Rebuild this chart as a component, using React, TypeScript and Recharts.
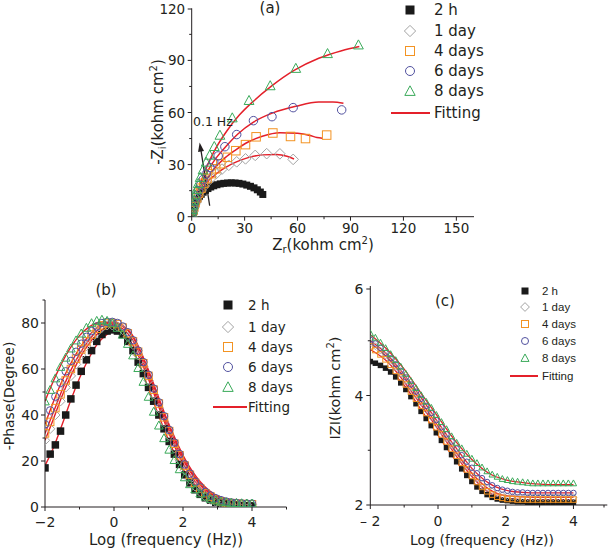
import React from "react";
import { ComposedChart, Line, XAxis, YAxis, ReferenceLine, ReferenceDot } from "recharts";

const DEJAVU = "'DejaVu Sans', Verdana, sans-serif";
const ARIAL = "'Liberation Sans', Arial, sans-serif";
const INK = "#231f20";
const RED = "#e4202a";

// (a) Nyquist: Zr / -Zi in kohm cm2
const nyq2hZr = [0, 0.3, 0.6, 1.0, 1.5, 2.0, 2.7, 3.5, 4.4, 5.4, 6.5, 7.8, 9.2, 10.8, 12.5, 14.3, 16.2, 18.2, 20.3, 22.4, 24.6, 26.8, 29.0, 31.2, 33.3, 35.3, 37.2, 38.9, 40.3];
const nyq2hZi = [0, 1.2, 2.5, 4.0, 5.6, 7.1, 8.7, 10.2, 11.6, 12.9, 14.1, 15.2, 16.2, 17.1, 17.8, 18.4, 18.9, 19.2, 19.4, 19.5, 19.4, 19.2, 18.8, 18.2, 17.5, 16.6, 15.5, 14.2, 12.8];
const nyq1dZr = [0, 0.3, 0.7, 1.2, 1.9, 2.8, 3.9, 5.3, 7.0, 9.0, 11.4, 14.1, 17.2, 21.0, 25.5, 30.5, 36.0, 42.5, 50.0, 57.5];
const nyq1dZi = [0, 1.5, 3.2, 5.2, 7.4, 9.8, 12.3, 14.9, 17.5, 20.1, 22.6, 25.0, 27.4, 29.6, 31.6, 33.3, 35.3, 36.3, 36.2, 33.0];
const nyq4dZr = [0, 0.3, 0.7, 1.2, 1.9, 2.8, 3.9, 5.2, 6.8, 8.7, 11.0, 13.6, 16.5, 20.2, 25.0, 30.5, 36.5, 46.0, 56.0, 64.5, 76.5];
const nyq4dZi = [0, 1.7, 3.6, 5.8, 8.3, 10.9, 13.6, 16.4, 19.2, 22.0, 24.8, 27.6, 30.5, 34.2, 38.0, 41.5, 46.0, 48.2, 46.2, 45.0, 47.0];
const nyq6dZr = [0, 0.3, 0.7, 1.2, 1.9, 2.7, 3.7, 5.0, 6.5, 8.2, 10.3, 12.5, 15.0, 18.8, 25.5, 35.0, 45.5, 57.5, 85.0];
const nyq6dZi = [0, 1.9, 4.0, 6.4, 9.1, 12.0, 15.0, 18.2, 21.4, 24.5, 28.3, 31.5, 35.0, 40.3, 47.3, 55.3, 57.6, 62.8, 61.5];
const nyq8dZr = [0, 0.2, 0.5, 0.9, 1.4, 2.0, 2.8, 3.7, 4.8, 6.4, 8.2, 10.2, 12.8, 16.0, 23.0, 32.5, 44.5, 59.0, 77.0, 94.5];
const nyq8dZi = [0, 2.0, 4.3, 6.8, 9.6, 12.6, 15.8, 19.2, 22.7, 27.0, 31.5, 35.5, 40.5, 47.0, 57.0, 67.0, 75.5, 85.5, 94.0, 99.0];

const fit2hZr = [5.5, 7, 9, 11.5, 14.5, 18, 22, 26, 30, 34, 37.5, 40.5];
const fit2hZi = [11, 13.5, 15.6, 17.4, 18.7, 19.6, 19.9, 19.6, 18.7, 17.2, 15.2, 12.5];
const fit1dZr = [0, 1, 2.5, 4.5, 7, 10, 14, 19, 25, 32, 40, 48, 54, 58];
const fit1dZi = [0, 4.5, 9, 13.5, 17.5, 21, 24.8, 28.3, 31.4, 34, 35.6, 35.8, 34.8, 33.2];
const fit4dZr = [0, 1, 2.5, 4.5, 7, 10, 14, 19, 25, 32, 40, 50, 60, 67, 71, 74];
const fit4dZi = [0, 5, 10, 15, 19.5, 24, 29, 34, 38.5, 43, 46.3, 48.3, 48, 46.8, 45.6, 45.2];
const fit6dZr = [0, 1, 2.5, 4.5, 7, 10, 14, 19, 26, 35, 46, 59, 72, 80, 86];
const fit6dZi = [0, 5.5, 11, 17, 22.5, 28, 34, 40, 47.5, 54.5, 59.8, 63.6, 66, 66, 65.3];
const fit8dZr = [0, 1, 2.5, 4.5, 7, 10, 14, 20, 27, 35, 45, 58, 72, 85, 95];
const fit8dZi = [0, 6, 12, 18, 25, 32, 40, 49.5, 58.5, 66.5, 75, 84.2, 91.2, 95.6, 98];

// (b), (c) Bode: log f grid of the measured points
const logF = [-2, -1.85, -1.7, -1.55, -1.4, -1.25, -1.1, -0.95, -0.8, -0.65, -0.5, -0.35, -0.2, -0.05, 0.1, 0.25, 0.4, 0.55, 0.7, 0.85, 1.0, 1.15, 1.3, 1.45, 1.6, 1.75, 1.9, 2.05, 2.2, 2.35, 2.5, 2.65, 2.8, 2.95, 3.1, 3.25, 3.4, 3.55, 3.7, 3.85, 4.0];

const phase2h = [17, 23, 27, 33, 40, 47, 53, 59, 64, 68, 72, 75, 76.5, 77, 76.5, 75, 72, 68, 63, 58, 52, 46, 40, 34, 28.5, 23, 18.5, 14, 10.5, 7.5, 5.5, 4, 3, 2, 1.5, 1.2, 1, 0.8, 0.7, 0.6, 0.5];
const phase1d = [29, 34, 40, 46, 52, 57, 62, 66, 70, 73.5, 76, 78, 79, 79, 78.5, 77, 74, 70.5, 66, 61, 55, 49, 43, 37, 31, 25.5, 20.5, 16, 12, 9, 6.5, 4.5, 3.2, 2.3, 1.8, 1.5, 1.3, 1.2, 1.1, 1, 1];
const phase4d = [32, 37, 43, 49, 55, 60, 64.5, 68.5, 72, 75, 77.5, 79, 80, 80, 79.5, 78, 75.5, 72, 67.5, 62.5, 57, 51, 45, 39, 33, 27.5, 22.5, 18, 14, 10.5, 8, 6, 4.5, 3.3, 2.5, 2, 1.7, 1.5, 1.3, 1.2, 1.2];
const phase6d = [36, 42, 48, 54, 59, 63.5, 67.5, 71, 74, 76.5, 78.5, 80, 80.5, 80.5, 80, 78.5, 76, 72.5, 68, 63, 57.5, 51.5, 45.5, 39.5, 33.5, 28, 23, 18.5, 14.5, 11, 8.5, 6.5, 5, 3.8, 3, 2.4, 2, 1.8, 1.6, 1.5, 1.5];
const phase8d = [46, 51, 56, 61, 65, 69, 72.5, 75.5, 78, 80, 81, 81.5, 81, 80, 78, 75, 71, 66, 60.5, 54.5, 48, 41.5, 35.5, 30, 25, 20.5, 16.5, 13, 10, 7.8, 6, 4.6, 3.6, 2.9, 2.4, 2.1, 1.9, 1.8, 1.7, 1.6, 1.6];

const fitFb = [-2, -1.75, -1.5, -1.25, -1, -0.75, -0.5, -0.25, 0, 0.25, 0.5, 0.75, 1, 1.25, 1.5, 1.75, 2, 2.25, 2.5, 2.75, 3, 3.25, 3.5, 3.75, 4];
const fitPh2h = [18, 26, 36, 46.5, 56, 64, 70.5, 74.5, 76.5, 75.5, 71.5, 64.5, 55.5, 45.5, 35.5, 26.5, 19, 13, 8.5, 5.5, 3.5, 2.3, 1.5, 1.1, 0.9];
const fitPh1d = [29, 38.5, 48.5, 57, 64.5, 70.5, 75, 78, 79, 77.5, 73.5, 66.5, 57, 47, 37, 28, 20.5, 14.5, 9.5, 6.2, 4, 2.7, 1.9, 1.4, 1.2];
const fitPh4d = [32, 41.5, 51, 59.5, 66.5, 72, 76.5, 79.5, 80, 78.5, 75, 68, 58.5, 48.5, 38.5, 29.5, 21.5, 15, 10, 6.5, 4.3, 2.9, 2.1, 1.6, 1.4];
const fitPh6d = [36, 46, 55, 62.5, 69, 74, 78, 80, 80.5, 79, 75.5, 68.5, 59.5, 49.5, 39.5, 30.5, 22.5, 16, 11, 7.3, 4.8, 3.2, 2.3, 1.8, 1.6];
const fitPh8d = [46, 55, 63, 69.5, 74.5, 78, 80, 80.5, 79, 75.5, 69.5, 61.5, 51.5, 41.5, 32, 23.5, 16.5, 11.2, 7.5, 5, 3.3, 2.4, 1.9, 1.6, 1.5];

const mod2h = [4.62, 4.59, 4.55, 4.50, 4.43, 4.34, 4.23, 4.11, 3.98, 3.85, 3.71, 3.58, 3.45, 3.32, 3.18, 3.05, 2.92, 2.79, 2.66, 2.54, 2.43, 2.33, 2.25, 2.19, 2.14, 2.11, 2.09, 2.08, 2.07, 2.06, 2.06, 2.05, 2.05, 2.05, 2.05, 2.05, 2.05, 2.05, 2.05, 2.05, 2.05];
const mod1d = [4.97, 4.90, 4.82, 4.73, 4.63, 4.52, 4.40, 4.27, 4.14, 4.01, 3.87, 3.74, 3.61, 3.48, 3.35, 3.22, 3.09, 2.96, 2.83, 2.71, 2.59, 2.48, 2.39, 2.31, 2.25, 2.21, 2.18, 2.16, 2.15, 2.14, 2.14, 2.14, 2.14, 2.14, 2.14, 2.14, 2.14, 2.14, 2.14, 2.14, 2.14];
const mod4d = [4.90, 4.83, 4.75, 4.66, 4.56, 4.45, 4.33, 4.20, 4.07, 3.94, 3.81, 3.68, 3.55, 3.42, 3.29, 3.16, 3.03, 2.90, 2.77, 2.65, 2.53, 2.42, 2.33, 2.25, 2.19, 2.15, 2.13, 2.11, 2.11, 2.10, 2.10, 2.10, 2.10, 2.10, 2.10, 2.10, 2.10, 2.10, 2.10, 2.10, 2.10];
const mod6d = [5.02, 4.95, 4.87, 4.78, 4.68, 4.57, 4.45, 4.33, 4.20, 4.07, 3.94, 3.81, 3.68, 3.55, 3.42, 3.29, 3.16, 3.03, 2.91, 2.79, 2.68, 2.58, 2.49, 2.42, 2.36, 2.31, 2.28, 2.26, 2.24, 2.23, 2.23, 2.22, 2.22, 2.22, 2.22, 2.22, 2.22, 2.22, 2.22, 2.22, 2.22];
const mod8d = [5.14, 5.06, 4.97, 4.87, 4.76, 4.65, 4.53, 4.40, 4.27, 4.14, 4.01, 3.89, 3.78, 3.65, 3.52, 3.39, 3.26, 3.14, 3.04, 2.94, 2.85, 2.77, 2.69, 2.62, 2.56, 2.52, 2.48, 2.46, 2.44, 2.43, 2.42, 2.41, 2.40, 2.40, 2.40, 2.40, 2.40, 2.40, 2.40, 2.40, 2.40];

const fitFc = [-2, -1.5, -1, -0.5, 0, 0.5, 1, 1.5, 2, 2.5, 3, 3.5, 4];
const fitMod2h = [4.62, 4.48, 4.19, 3.74, 3.27, 2.83, 2.44, 2.18, 2.08, 2.06, 2.05, 2.05, 2.05];
const fitMod1d = [4.95, 4.70, 4.33, 3.89, 3.44, 2.99, 2.58, 2.29, 2.17, 2.15, 2.14, 2.14, 2.14];
const fitMod4d = [4.84, 4.62, 4.25, 3.83, 3.38, 2.93, 2.52, 2.23, 2.12, 2.10, 2.10, 2.10, 2.10];
const fitMod6d = [5.0, 4.75, 4.38, 3.96, 3.51, 3.07, 2.67, 2.40, 2.27, 2.23, 2.22, 2.22, 2.22];
const fitMod8d = [5.11, 4.84, 4.48, 4.04, 3.61, 3.18, 2.83, 2.58, 2.46, 2.41, 2.38, 2.37, 2.37];

const SERIES = [
  { name: "2 h", kind: "fsquare", color: "#1a1a1a" },
  { name: "1 day", kind: "diamond", color: "#a3a3a3" },
  { name: "4 days", kind: "square", color: "#f39322" },
  { name: "6 days", kind: "circle", color: "#51519f" },
  { name: "8 days", kind: "triangle", color: "#3aaa5a" },
];

const pts = (xs: number[], ys: number[]) => xs.map((x, i) => ({ x, y: ys[i] }));

// one table per Bode panel: m0..m4 = measured, f0..f4 = fitting
function bodeTable(marks: number[][], fitX: number[], fits: number[][]) {
  const xs = Array.from(new Set([...logF, ...fitX])).sort((a, b) => a - b);
  return xs.map((x) => {
    const r: any = { x };
    const i = logF.indexOf(x);
    if (i >= 0) marks.forEach((a, k) => (r["m" + k] = a[i]));
    const j = fitX.indexOf(x);
    if (j >= 0) fits.forEach((a, k) => (r["f" + k] = a[j]));
    return r;
  });
}

function Mark({ kind, cx, cy, s, color }: any) {
  const h = s / 2;
  if (kind === "fsquare") return <rect x={cx - h} y={cy - h} width={s} height={s} fill={color} />;
  if (kind === "square")
    return <rect x={cx - h} y={cy - h} width={s} height={s} fill="none" stroke={color} strokeWidth={1} />;
  if (kind === "circle") return <circle cx={cx} cy={cy} r={h} fill="none" stroke={color} strokeWidth={1} />;
  if (kind === "diamond") {
    const d = h * 1.25;
    return (
      <polygon points={`${cx},${cy - d} ${cx + d},${cy} ${cx},${cy + d} ${cx - d},${cy}`} fill="none" stroke={color} strokeWidth={1} />
    );
  }
  const t = h * 1.15;
  return (
    <polygon points={`${cx},${cy - t} ${cx + t},${cy + t * 0.85} ${cx - t},${cy + t * 0.85}`} fill="none" stroke={color} strokeWidth={1} />
  );
}

const dotOf = (kind: string, color: string, s: number) => (p: any) =>
  p.cx == null || p.cy == null || p.value == null ? (
    <g key={p.index} />
  ) : (
    <Mark key={p.index} kind={kind} color={color} s={s} cx={p.cx} cy={p.cy} />
  );

function tickOf(dir: "x" | "y", majors: number[], fmt: (v: number) => string, size: number, off: number) {
  return (p: any) => {
    const v = p.payload.value;
    const major = majors.some((m) => Math.abs(m - v) < 1e-6);
    const len = major ? 4 : 2.5;
    if (dir === "x")
      return (
        <g>
          <line x1={p.x} x2={p.x} y1={p.y} y2={p.y + len} stroke={INK} />
          {major && (
            <text x={p.x} y={p.y + off} textAnchor="middle" dominantBaseline="central" fontSize={size} fontFamily={DEJAVU} fill={INK}>
              {fmt(v)}
            </text>
          )}
        </g>
      );
    return (
      <g>
        <line x1={p.x} x2={p.x - len} y1={p.y} y2={p.y} stroke={INK} />
        {major && (
          <text x={p.x - off} y={p.y} textAnchor="end" dominantBaseline="central" fontSize={size} fontFamily={DEJAVU} fill={INK}>
            {fmt(v)}
          </text>
        )}
      </g>
    );
  };
}

const num = (v: number) => String(v);
const neg = (v: number) => (v < 0 ? "\u2212" + Math.abs(v) : String(v));
const negC = (v: number) => (v < 0 ? "\u2013 " + Math.abs(v) : String(v));

const axisProps = { tickSize: 0, tickMargin: 0, tickLine: false, axisLine: { stroke: INK, strokeWidth: 1 }, allowDataOverflow: true } as any;

function Legend({ mx, tx, rows, size, font, ms, line }: any) {
  return (
    <g>
      {SERIES.map((s, i) => (
        <g key={s.name}>
          <Mark kind={s.kind} color={s.color} s={ms} cx={mx} cy={rows[i]} />
          <text x={tx} y={rows[i]} dominantBaseline="central" fontSize={size} fontFamily={font} fill={INK}>
            {s.name}
          </text>
        </g>
      ))}
      <line x1={line[0]} x2={line[1]} y1={rows[5]} y2={rows[5]} stroke={RED} strokeWidth={2} />
      <text x={tx} y={rows[5]} dominantBaseline="central" fontSize={size} fontFamily={font} fill={INK}>
        Fitting
      </text>
    </g>
  );
}

export default function App() {
  const nyq = [
    pts(nyq2hZr, nyq2hZi),
    pts(nyq1dZr, nyq1dZi),
    pts(nyq4dZr, nyq4dZi),
    pts(nyq6dZr, nyq6dZi),
    pts(nyq8dZr, nyq8dZi),
  ];
  const nyqFit = [
    pts(fit2hZr, fit2hZi),
    pts(fit1dZr, fit1dZi),
    pts(fit4dZr, fit4dZi),
    pts(fit6dZr, fit6dZi),
    pts(fit8dZr, fit8dZi),
  ];
  const phaseRows = bodeTable([phase2h, phase1d, phase4d, phase6d, phase8d], fitFb, [fitPh2h, fitPh1d, fitPh4d, fitPh6d, fitPh8d]);
  const modRows = bodeTable([mod2h, mod1d, mod4d, mod6d, mod8d], fitFc, [fitMod2h, fitMod1d, fitMod4d, fitMod6d, fitMod8d]);

  const lbl = { fontFamily: DEJAVU, fill: INK } as any;

  return (
    <div style={{ position: "relative", width: 608, height: 549, background: "#fff" }}>
      <style>{"body{margin:0}"}</style>

      {/* (a) Nyquist */}
      <div style={{ position: "absolute", left: 0, top: 0 }}>
        <ComposedChart width={490} height={250} margin={{ top: 8.3, right: 16, bottom: 3.3, left: 0 }}>
          <XAxis {...axisProps} type="number" dataKey="x" domain={[0, 160]} height={30}
            ticks={[0, 15, 30, 45, 60, 75, 90, 105, 120, 135, 150]}
            tick={tickOf("x", [0, 30, 60, 90, 120, 150], num, 13.5, 11)} />
          <YAxis {...axisProps} type="number" domain={[0, 120]} width={191.7}
            ticks={[0, 15, 30, 45, 60, 75, 90, 105, 120]}
            tick={tickOf("y", [0, 30, 60, 90, 120], num, 13.5, 6.5)} />
          {SERIES.map((s, i) => (
            <Line key={s.name} data={nyq[i]} dataKey="y" stroke="none" isAnimationActive={false}
              dot={dotOf(s.kind, s.color, s.kind === "fsquare" ? 7 : 8.5)} activeDot={false} />
          ))}
          {nyqFit.map((d, i) => (
            <Line key={"f" + i} data={d} dataKey="y" type="monotone" stroke={RED} strokeWidth={1.5} dot={false}
              activeDot={false} isAnimationActive={false} />
          ))}
          <ReferenceLine segment={[{ x: 10.2, y: 6.3 }, { x: 4.9, y: 40.5 }]} stroke={INK} strokeWidth={1.3} />
          <ReferenceDot x={4.5} y={42.7} r={0}
            shape={(p: any) => (
              <polygon points={`${p.cx},${p.cy} ${p.cx - 3},${p.cy + 9} ${p.cx + 3},${p.cy + 9}`} fill={INK}
                transform={`rotate(-9 ${p.cx} ${p.cy})`} />
            )} />
        </ComposedChart>
      </div>

      {/* (b) phase */}
      <div style={{ position: "absolute", left: 0, top: 280 }}>
        <ComposedChart width={300} height={269} data={phaseRows} margin={{ top: 20, right: 13.5, bottom: 12, left: 0 }}>
          <XAxis {...axisProps} type="number" dataKey="x" domain={[-2, 5]} height={30}
            ticks={[-2, -1, 0, 1, 2, 3, 4, 5]} tick={tickOf("x", [-2, 0, 2, 4], neg, 14, 15)} />
          <YAxis {...axisProps} type="number" domain={[0, 90]} width={45}
            ticks={[0, 10, 20, 30, 40, 50, 60, 70, 80, 90]} tick={tickOf("y", [0, 20, 40, 60, 80], num, 14, 6)} />
          {SERIES.map((s, i) => (
            <Line key={s.name} dataKey={"m" + i} stroke="none" isAnimationActive={false}
              dot={dotOf(s.kind, s.color, 7.5)} activeDot={false} />
          ))}
          {SERIES.map((s, i) => (
            <Line key={"f" + i} dataKey={"f" + i} type="monotone" stroke={RED} strokeWidth={1.4} dot={false} connectNulls
              activeDot={false} isAnimationActive={false} />
          ))}
        </ComposedChart>
      </div>

      {/* (c) modulus */}
      <div style={{ position: "absolute", left: 300, top: 280 }}>
        <ComposedChart width={308} height={269} data={modRows} margin={{ top: 6, right: 0.7, bottom: 14, left: 0 }}>
          <XAxis {...axisProps} type="number" dataKey="x" domain={[-2, 5]} height={30}
            ticks={[-2, -1, 0, 1, 2, 3, 4, 5]} tick={tickOf("x", [-2, 0, 2, 4], negC, 14, 16)} />
          <YAxis {...axisProps} type="number" domain={[2, 6]} width={70.3}
            ticks={[2, 3, 4, 5, 6]} tick={tickOf("y", [2, 4, 6], num, 14, 7)} />
          {SERIES.map((s, i) => (
            <Line key={s.name} dataKey={"m" + i} stroke="none" isAnimationActive={false}
              dot={dotOf(s.kind, s.color, 5.5)} activeDot={false} />
          ))}
          {SERIES.map((s, i) => (
            <Line key={"f" + i} dataKey={"f" + i} type="monotone" stroke={RED} strokeWidth={1.3} dot={false} connectNulls
              activeDot={false} isAnimationActive={false} />
          ))}
        </ComposedChart>
      </div>

      {/* titles, axis labels and legends */}
      <svg width={608} height={549} style={{ position: "absolute", left: 0, top: 0, pointerEvents: "none" }}>
        <text x={270} y={8} textAnchor="middle" dominantBaseline="central" fontSize={15} {...lbl}>(a)</text>
        <text x={158} y={112} transform="rotate(-90 158 112)" textAnchor="middle" dominantBaseline="central" fontSize={15} {...lbl}>
          -Z<tspan dy={4} fontSize={10}>i</tspan><tspan dy={-4}>(kohm cm</tspan><tspan dy={-5} fontSize={10}>2</tspan><tspan dy={5}>)</tspan>
        </text>
        <text x={323} y={245} textAnchor="middle" dominantBaseline="central" fontSize={15} {...lbl}>
          Z<tspan dy={4} fontSize={10}>r</tspan><tspan dy={-4}>(kohm cm</tspan><tspan dy={-5} fontSize={10}>2</tspan><tspan dy={5}>)</tspan>
        </text>
        <text x={193} y={121} dominantBaseline="central" fontSize={12.5} {...lbl}>0.1 Hz</text>
        <Legend mx={410} tx={434} rows={[10, 31, 51, 71, 91, 113]} size={15} font={DEJAVU} ms={9} line={[391, 430]} />

        <text x={106} y={290} textAnchor="middle" dominantBaseline="central" fontSize={15} {...lbl}>(b)</text>
        <text x={9} y={396} transform="rotate(-90 9 396)" textAnchor="middle" dominantBaseline="central" fontSize={14} {...lbl}>
          -Phase(Degree)
        </text>
        <text x={166} y={539.5} textAnchor="middle" dominantBaseline="central" fontSize={15} {...lbl}>Log (frequency (Hz))</text>
        <Legend mx={228} tx={248} rows={[305, 327, 347, 367, 387, 407]} size={13.5} font={DEJAVU} ms={9} line={[213, 247]} />

        <text x={445} y={301} textAnchor="middle" dominantBaseline="central" fontSize={15} {...lbl}>(c)</text>
        <text x={335} y={388} transform="rotate(-90 335 388)" textAnchor="middle" dominantBaseline="central" fontSize={14.5} {...lbl}>
          IZI(kohm cm<tspan dy={-5} fontSize={10}>2</tspan><tspan dy={5}>)</tspan>
        </text>
        <text x={482} y={539.5} textAnchor="middle" dominantBaseline="central" fontSize={14} {...lbl}>Log (frequency (Hz))</text>
        <Legend mx={525} tx={542} rows={[291, 307, 324, 341, 358, 376]} size={11.5} font={ARIAL} ms={7} line={[510, 538]} />
      </svg>
    </div>
  );
}
